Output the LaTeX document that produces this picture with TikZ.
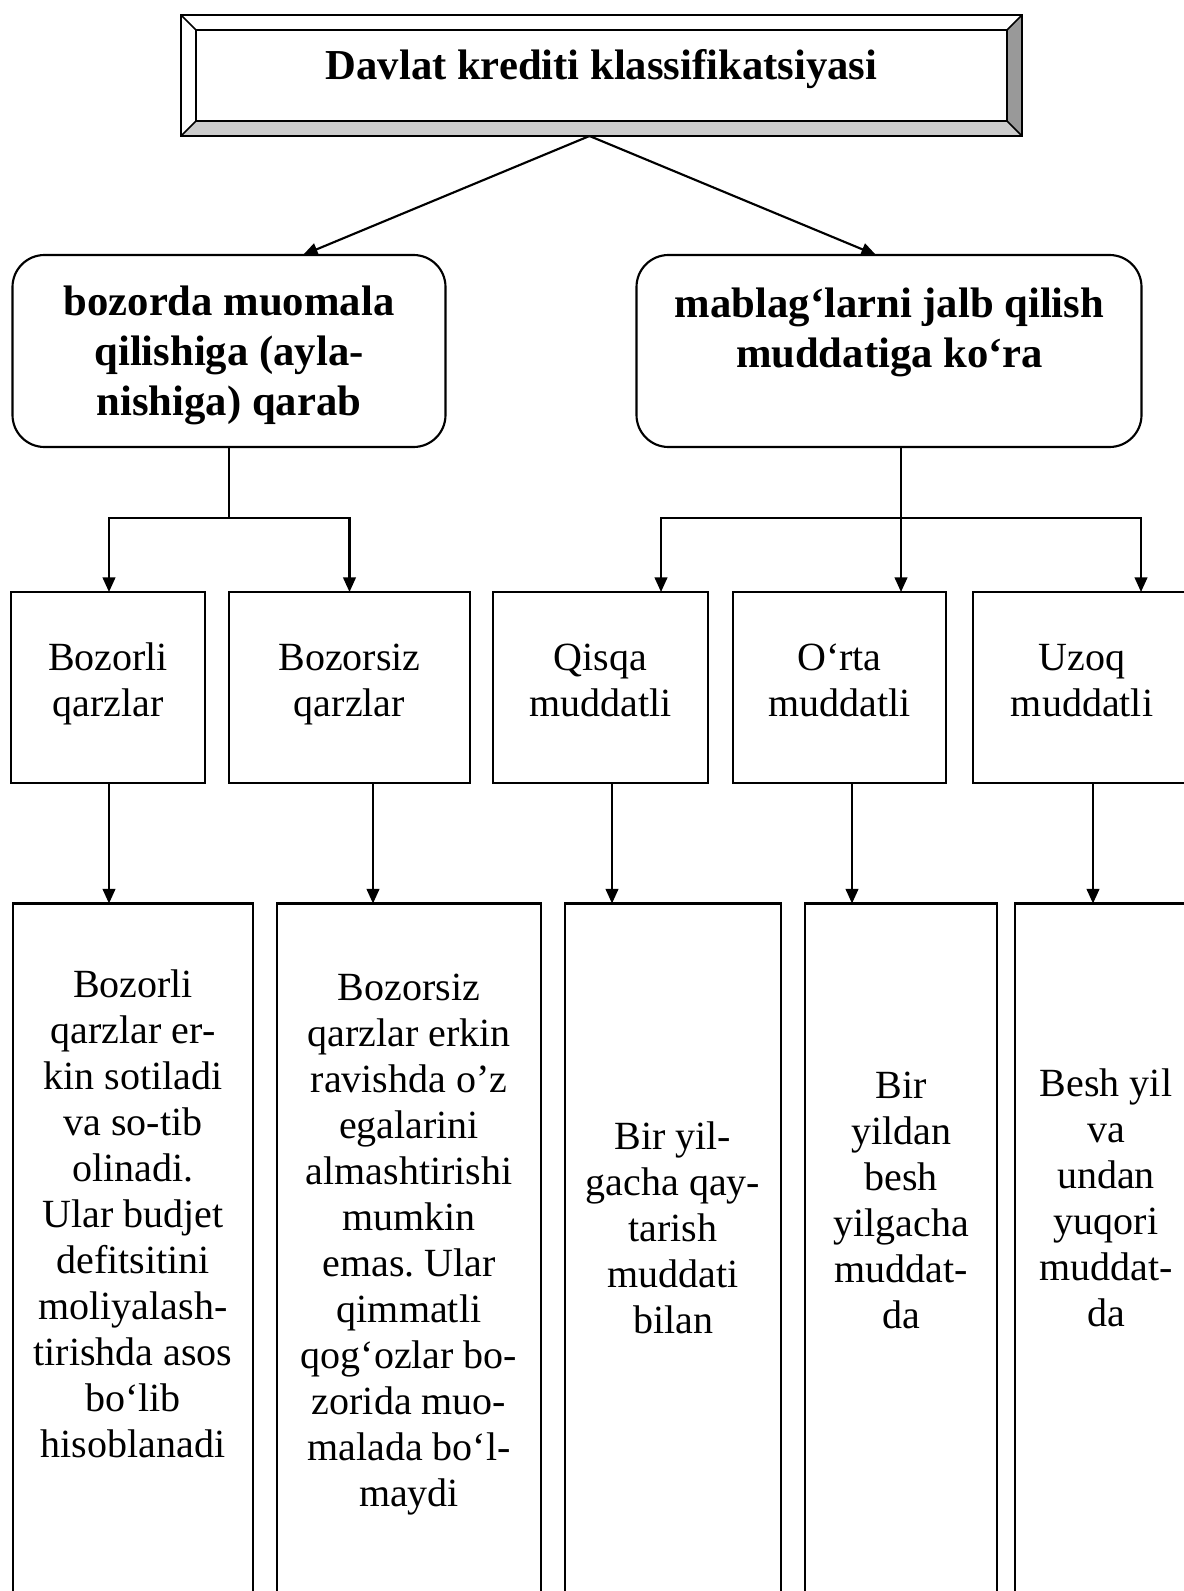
\documentclass[tikz,border=0pt]{standalone}
\usepackage{fontspec}
\setmainfont{Liberation Serif}
\usetikzlibrary{arrows.meta,calc}
\newlength\pxl
\setlength\pxl{0.75pt}
\frenchspacing
\begin{document}
\begin{tikzpicture}[x=0.75pt,y=-0.75pt,line width=1.6pt,
  arr/.style={-{Triangle[length=11pt,width=9.5pt]}},
  box/.style={draw,rectangle,inner sep=0pt,outer sep=0pt},
  rbox/.style={draw,rectangle,rounded corners=24pt,inner sep=0pt,outer sep=0pt},
  txt/.style={align=center,inner sep=0pt,font=\fontsize{30}{34.5}\selectfont,
    execute at begin node=\strut,execute at end node=\strut},
  btxt/.style={align=center,inner sep=0pt,font=\fontsize{32}{37.5}\selectfont\bfseries,
    execute at begin node=\strut,execute at end node=\strut}]
\useasboundingbox (0,0) rectangle (1184,1591);
\clip (0,0) rectangle (1184,1591);
% ---- title frame ----
\node[inner sep=0pt,outer sep=0pt,minimum width=841\pxl,minimum height=121\pxl] (title) at (601.5,75.5) {};
\node[inner sep=0pt,outer sep=0pt,minimum width=811\pxl,minimum height=91\pxl] (inner) at (601.5,75.5) {};
\fill[black!20] (title.south west) -- (title.south east) -- (inner.south east) -- (inner.south west) -- cycle;
\fill[black!40] (title.south east) -- (title.north east) -- (inner.north east) -- (inner.south east) -- cycle;
\draw[line width=1.4pt] (title.south west) rectangle (title.north east);
\draw[line width=1.4pt] (inner.south west) rectangle (inner.north east);
\draw[line width=1.2pt] (title.north west) -- (inner.north west)
  (title.north east) -- (inner.north east)
  (title.south west) -- (inner.south west)
  (title.south east) -- (inner.south east);
\node[btxt] (ttitle) at (601.5,70) {Davlat krediti klassifikatsiyasi};
% ---- level 1 ----
\node[rbox,minimum width=433\pxl,minimum height=192\pxl] (L1) at (229,351) {};
\node[rbox,minimum width=505\pxl,minimum height=192\pxl] (R1) at (889,351) {};
\node[btxt] (tL1) at (229,358) {bozorda muomala\\qilishiga (ayla-\\nishiga) qarab};
\node[btxt] (tR1) at (889.5,335) {mablag‘larni jalb qilish\\muddatiga ko‘ra};
% ---- level 2 ----
\node[box,minimum width=194\pxl,minimum height=191\pxl] (B1) at (108,687.5) {};
\node[box,minimum width=241\pxl,minimum height=191\pxl] (B2) at (349.5,687.5) {};
\node[box,minimum width=215\pxl,minimum height=191\pxl] (C2) at (600.5,687.5) {};
\node[box,minimum width=213\pxl,minimum height=191\pxl] (D2) at (839.5,687.5) {};
\node[box,minimum width=218\pxl,minimum height=191\pxl] (E2) at (1082,687.5) {};
\node[txt] (tB1) at (108,687) {Bozorli\\qarzlar};
\node[txt] (tB2) at (349.5,687) {Bozorsiz\\qarzlar};
\node[txt] (tC2) at (600.5,687) {Qisqa\\muddatli};
\node[txt] (tD2) at (839.5,687) {O‘rta\\muddatli};
\node[txt] (tE2) at (1082,687) {Uzoq\\muddatli};
% ---- level 3 ----
\node[box,minimum width=240\pxl,minimum height=737\pxl] (A3) at (133,1272) {};
\node[box,minimum width=264\pxl,minimum height=737\pxl] (B3) at (409,1272) {};
\node[box,minimum width=216\pxl,minimum height=737\pxl] (C3) at (673,1272) {};
\node[box,minimum width=192\pxl,minimum height=737\pxl] (D3) at (901,1272) {};
\node[box,minimum width=182\pxl,minimum height=737\pxl] (E3) at (1106,1272) {};
\node[txt] (tA3) at (133,1221) {Bozorli\\qarzlar er-\\kin sotiladi\\va so-tib\\olinadi.\\Ular budjet\\defitsitini\\moliyalash-\\tirishda asos\\bo‘lib\\hisoblanadi};
\node[txt] (tB3) at (409,1247) {Bozorsiz\\qarzlar erkin\\ravishda o’z\\egalarini\\almashtirishi\\mumkin\\emas. Ular\\qimmatli\\qog‘ozlar bo-\\zorida muo-\\malada bo‘l-\\maydi};
\node[txt] (tC3) at (673,1235) {Bir yil-\\gacha qay-\\tarish\\muddati\\bilan};
\node[txt] (tD3) at (901,1207) {Bir\\yildan\\besh\\yilgacha\\muddat-\\da};
\node[txt] (tE3) at (1106,1205) {Besh yil\\va\\undan\\yuqori\\muddat-\\da};
% ---- connectors ----
\coordinate (apex) at ([xshift=-12\pxl]title.south);
\draw[arr] (apex) -- ([xshift=74\pxl]L1.north);
\draw[arr] (apex) -- ([xshift=-13\pxl]R1.north);
\coordinate (jy) at (0,518);
\coordinate (jL) at (L1.south |- jy);
\draw (L1.south) -- (jL);
\coordinate (b1n) at ([xshift=1\pxl]B1.north);
\draw[arr] (jL) -| (b1n);
\draw[arr] (jL) -| (B2.north);
\coordinate (r1s) at ([xshift=12\pxl]R1.south);
\coordinate (jR) at (r1s |- jy);
\draw (r1s) -- (jR);
\coordinate (c2n) at ([xshift=60.5\pxl]C2.north);
\coordinate (e2n) at ([xshift=59\pxl]E2.north);
\draw[arr] (jR) -| (c2n);
\draw[arr] (jR) -- (jR |- D2.north);
\draw[arr] (jR) -| (e2n);
\coordinate (b1s) at ([xshift=1\pxl]B1.south);
\coordinate (b2s) at ([xshift=23.5\pxl]B2.south);
\coordinate (c2s) at ([xshift=11.5\pxl]C2.south);
\coordinate (d2s) at ([xshift=12.5\pxl]D2.south);
\coordinate (e2s) at ([xshift=11\pxl]E2.south);
\draw[arr] (b1s) -- (b1s |- A3.north);
\draw[arr] (b2s) -- (b2s |- B3.north);
\draw[arr] (c2s) -- (c2s |- C3.north);
\draw[arr] (d2s) -- (d2s |- D3.north);
\draw[arr] (e2s) -- (e2s |- E3.north);
\end{tikzpicture}
\end{document}
